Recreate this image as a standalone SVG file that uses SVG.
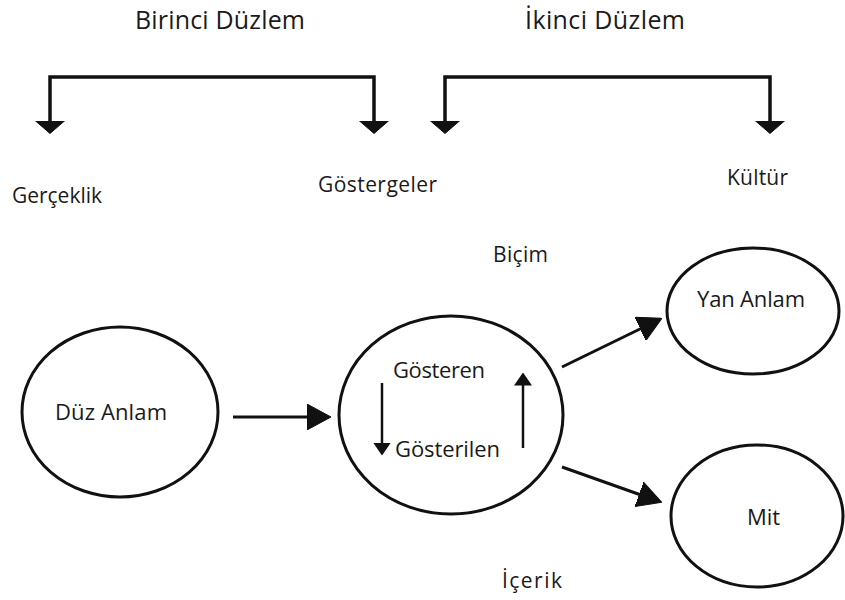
<svg xmlns="http://www.w3.org/2000/svg" width="845" height="600" viewBox="0 0 845 600">
  <defs>
    <style>
      .lbl { font-family: "Open Sans", "Liberation Sans", sans-serif; fill: #1a1a1a; }
      .top { font-size: 25px; }
      .mid { font-size: 21px; }
      .in { font-size: 22px; }
      .node { fill: none; stroke: #111; stroke-width: 3; }
      .br { fill: none; stroke: #111; stroke-width: 3.5; }
      .con { fill: none; stroke: #111; stroke-width: 3; }
      .thin { fill: none; stroke: #111; stroke-width: 2.5; }
    </style>
    <marker id="brHead" markerUnits="userSpaceOnUse" viewBox="0 0 13 30" markerWidth="13" markerHeight="30" refX="0.5" refY="15" orient="auto-start-reverse">
      <path d="M0,0 L13,15 L0,30 z" fill="#111" stroke="#111" stroke-width="1" stroke-linejoin="round"/>
    </marker>
    <marker id="bigHead" markerUnits="userSpaceOnUse" viewBox="0 0 24 26" markerWidth="24" markerHeight="26" refX="2" refY="13" orient="auto">
      <path d="M0,0 L24,13 L0,26 z" fill="#111" stroke="#111" stroke-width="1" stroke-linejoin="round"/>
    </marker>
    <marker id="smallHead" markerUnits="userSpaceOnUse" viewBox="0 0 13 18" markerWidth="13" markerHeight="18" refX="0.5" refY="9" orient="auto">
      <path d="M0,0 L13,9 L0,18 z" fill="#111"/>
    </marker>
  </defs>
  <rect width="845" height="600" fill="#fff"/>

  <g id="plane-labels">
    <text class="lbl top" x="135" y="29" textLength="170">Birinci Düzlem</text>
    <text class="lbl top" x="525" y="29" textLength="160">İkinci Düzlem</text>
  </g>

  <g id="connectors">
    <path class="br" d="M50,121 V77 H374 V121" marker-start="url(#brHead)" marker-end="url(#brHead)"/>
    <path class="br" d="M445,121 V77 H770 V121" marker-start="url(#brHead)" marker-end="url(#brHead)"/>
    <line class="con" x1="233" y1="417" x2="309" y2="417" marker-end="url(#bigHead)"/>
    <line class="con" x1="562" y1="367" x2="642" y2="328" marker-end="url(#bigHead)"/>
    <line class="con" x1="562" y1="467" x2="641" y2="495" marker-end="url(#bigHead)"/>
    <line class="thin" x1="382" y1="383" x2="382" y2="443" marker-end="url(#smallHead)"/>
    <line class="thin" x1="523" y1="448" x2="523" y2="385" marker-end="url(#smallHead)"/>
  </g>

  <g id="label-gerceklik"><text class="lbl mid" x="12" y="203" textLength="90">Gerçeklik</text></g>
  <g id="label-gostergeler"><text class="lbl mid" x="318" y="192" textLength="119">Göstergeler</text></g>
  <g id="label-kultur"><text class="lbl mid" x="727" y="185" textLength="61">Kültür</text></g>
  <g id="label-bicim"><text class="lbl mid" x="493" y="262" textLength="55">Biçim</text></g>
  <g id="label-icerik"><text class="lbl mid" x="502" y="588" textLength="60">İçerik</text></g>

  <g id="node-duz-anlam">
    <ellipse class="node" cx="120" cy="412" rx="98" ry="85"/>
    <text class="lbl in" x="55" y="420" textLength="112">Düz Anlam</text>
  </g>

  <g id="node-gosterge">
    <ellipse class="node" cx="451" cy="415" rx="112" ry="99"/>
    <text class="lbl in" x="393" y="378" textLength="92">Gösteren</text>
    <text class="lbl in" x="395" y="457" textLength="105">Gösterilen</text>
  </g>

  <g id="node-yan-anlam">
    <ellipse class="node" cx="753" cy="311" rx="86" ry="63"/>
    <text class="lbl in" x="697" y="307" textLength="108">Yan Anlam</text>
  </g>

  <g id="node-mit">
    <ellipse class="node" cx="757" cy="516" rx="86" ry="71"/>
    <text class="lbl in" x="747" y="525" textLength="33">Mit</text>
  </g>
</svg>
